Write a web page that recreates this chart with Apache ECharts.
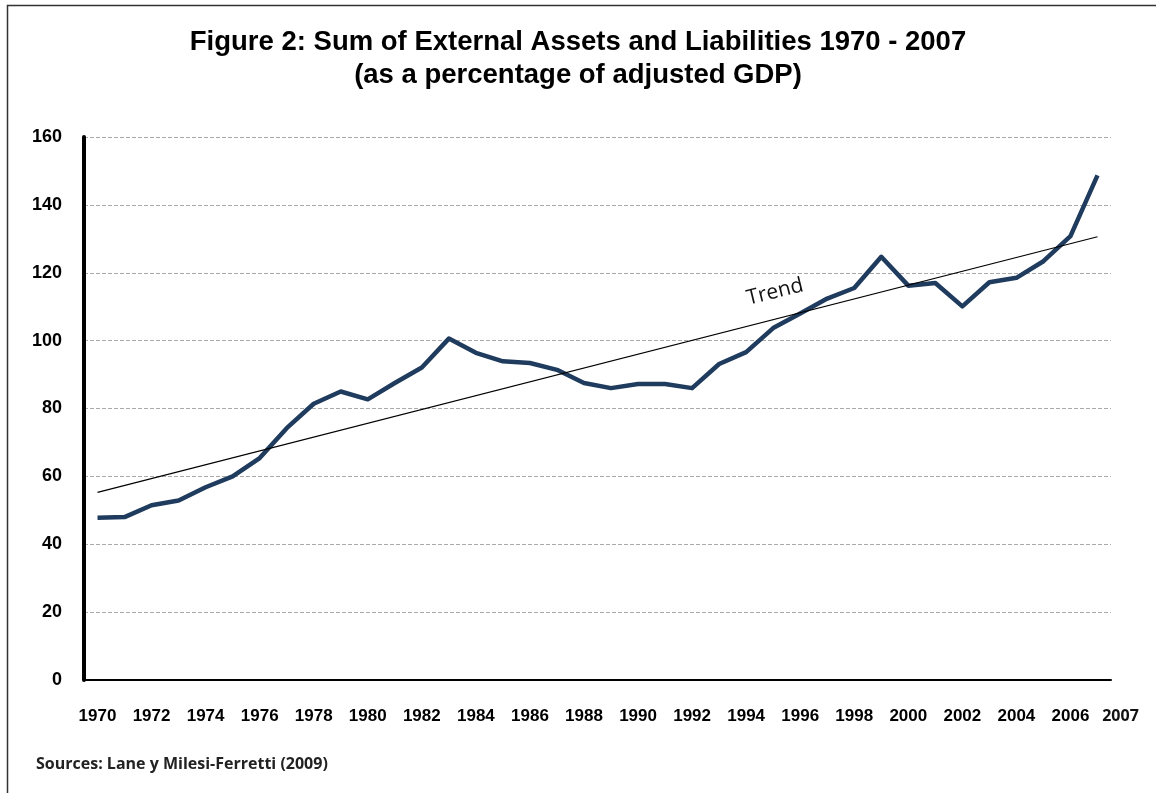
<!DOCTYPE html>
<html>
<head>
<meta charset="utf-8">
<script src="https://cdn.jsdelivr.net/npm/echarts@6/dist/echarts.min.js"></script>
<style>
html,body{margin:0;padding:0;background:#fff;}
#chart{width:1156px;height:793px;}
</style>
</head>
<body>
<div id="chart"></div>
<script>
var years = ['1970','1971','1972','1973','1974','1975','1976','1977','1978','1979',
  '1980','1981','1982','1983','1984','1985','1986','1987','1988','1989',
  '1990','1991','1992','1993','1994','1995','1996','1997','1998','1999',
  '2000','2001','2002','2003','2004','2005','2006','2007'];
var sumAssetsLiabilities = [47.8,48.0,51.5,52.9,56.8,60.0,65.4,74.2,81.4,85.0,
  82.7,87.5,92.1,100.6,96.4,93.9,93.4,91.4,87.5,86.0,
  87.2,87.2,86.0,93.1,96.6,103.7,108.0,112.4,115.5,124.7,
  116.2,117.0,110.1,117.2,118.5,123.4,130.8,148.7];
// trend line endpoints (1970 and 2007), other years empty
var trend = [55.3,null,null,null,null,null,null,null,null,null,
  null,null,null,null,null,null,null,null,null,null,
  null,null,null,null,null,null,null,null,null,null,
  null,null,null,null,null,null,null,130.6];
var yTicks = [0,20,40,60,80,100,120,140,160];
var titleLines = ['Figure 2: Sum of External Assets and Liabilities 1970 - 2007','(as a percentage of adjusted GDP)'];
var sourceText = 'Sources: Lane y Milesi-Ferretti (2009)';
var trendLabel = 'Trend';

var chart = echarts.init(document.getElementById('chart'), null, {renderer:'canvas'});
var option = {
  backgroundColor:'#ffffff',
  animation:false,
  title:{
    text: titleLines.join('\n'),
    left:'center',
    top:21,
    textStyle:{fontFamily:'Liberation Sans, Arial, sans-serif',fontWeight:'bold',fontSize:27.5,lineHeight:33,color:'#000'}
  },
  grid:{left:84,right:45,top:137,bottom:113,containLabel:false},
  xAxis:{
    type:'category',
    data:years,
    boundaryGap:true,
    axisLine:{show:true,lineStyle:{color:'#000',width:2}},
    axisTick:{show:false},
    axisLabel:{
      interval:function(i){return i%2===0 || i===years.length-1;},
      margin:28,
      formatter:function(v,i){return i===years.length-1 ? '{l|'+v+'}' : '{b|'+v+'}';},
      rich:{
        b:{fontFamily:'Liberation Sans, Arial, sans-serif',fontWeight:'bold',fontSize:17,color:'#000'},
        l:{fontFamily:'Open Sans, sans-serif',fontWeight:'bold',fontSize:16,color:'#111',padding:[0,0,0,46]}
      }
    },
    splitLine:{show:false}
  },
  yAxis:{
    type:'value',
    min:0,max:160,interval:20,
    axisLine:{show:true,lineStyle:{color:'#000',width:4}},
    axisTick:{show:false},
    axisLabel:{
      margin:22,
      fontFamily:'Liberation Sans, Arial, sans-serif',
      fontWeight:'bold',fontSize:18,color:'#000',
      formatter:function(v){return yTicks.indexOf(v)>=0 ? String(v) : '';}
    },
    splitLine:{show:true,lineStyle:{color:'#aaaaaa',type:[4,2],width:1}}
  },
  series:[
    {
      name:'Sum',
      type:'line',
      data:sumAssetsLiabilities,
      symbol:'none',
      lineStyle:{color:'#1f3b5e',width:4.5,join:'round'},
      z:3
    },
    {
      name:'Trend',
      type:'line',
      data:trend,
      connectNulls:true,
      symbol:'none',
      lineStyle:{color:'#000',width:1.2},
      z:4
    }
  ],
  graphic:[
    {type:'rect',left:5,top:3,shape:{width:1200,height:820},style:{fill:'none',stroke:'#333',lineWidth:1.5},silent:true},
    {type:'text',left:36,top:756,style:{text:sourceText,font:'bold 16px "Open Sans", sans-serif',fill:'#222'}},
    {type:'text',x:775,y:292,rotation:0.24,style:{text:trendLabel,font:'21px "Open Sans", sans-serif',fill:'#111',align:'center',verticalAlign:'middle'}}
  ]
};
chart.setOption(option);
</script>
</body>
</html>
